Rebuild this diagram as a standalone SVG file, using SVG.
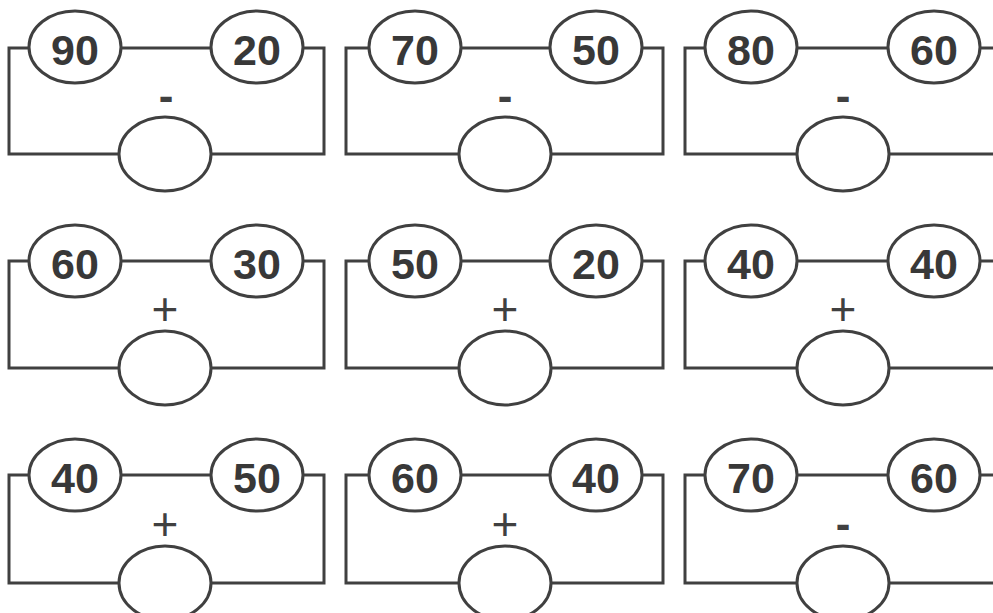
<svg xmlns="http://www.w3.org/2000/svg" width="993" height="613" viewBox="0 0 993 613">
<style>
.w{fill:none;stroke:#404040;stroke-width:3;stroke-linejoin:miter}
.n ellipse{fill:#ffffff;stroke:#404040;stroke-width:3}
.num{font-family:"Liberation Sans",Arial,sans-serif;font-weight:bold;font-size:43px;fill:#383838;text-anchor:middle}
.plus{font-family:"Liberation Sans",Arial,sans-serif;font-size:46px;fill:#404040;text-anchor:middle}
.minus{font-family:"Liberation Sans",Arial,sans-serif;font-weight:bold;font-size:44px;fill:#404040;text-anchor:middle}
</style>
<rect width="993" height="613" fill="#ffffff"/>
<g id="connectors">
<path class="w" d="M9 48H324V154H9Z"/>
<path class="w" d="M346 48H663V154H346Z"/>
<path class="w" d="M1000 48H685V154H1000"/>
<path class="w" d="M9 261H324V368H9Z"/>
<path class="w" d="M346 261H663V368H346Z"/>
<path class="w" d="M1000 261H685V368H1000"/>
<path class="w" d="M9 475H324V583H9Z"/>
<path class="w" d="M346 475H663V583H346Z"/>
<path class="w" d="M1000 475H685V583H1000"/>
</g>
<!-- Row 1 -->
<g id="r1c1a" class="n"><ellipse cx="75" cy="47" rx="46" ry="36"/><text class="num" x="75" y="65">90</text></g>
<g id="r1c1b" class="n"><ellipse cx="257" cy="47" rx="46" ry="36"/><text class="num" x="257" y="65">20</text></g>
<g id="r1c1op"><text class="minus" x="166" y="111">-</text></g>
<g id="r1c1r" class="n"><ellipse cx="165" cy="154" rx="46" ry="37"/></g>
<g id="r1c2a" class="n"><ellipse cx="415" cy="47" rx="46" ry="36"/><text class="num" x="415" y="65">70</text></g>
<g id="r1c2b" class="n"><ellipse cx="596" cy="47" rx="46" ry="36"/><text class="num" x="596" y="65">50</text></g>
<g id="r1c2op"><text class="minus" x="505" y="111">-</text></g>
<g id="r1c2r" class="n"><ellipse cx="505" cy="154" rx="46" ry="37"/></g>
<g id="r1c3a" class="n"><ellipse cx="751" cy="47" rx="46" ry="36"/><text class="num" x="751" y="65">80</text></g>
<g id="r1c3b" class="n"><ellipse cx="934" cy="47" rx="46" ry="36"/><text class="num" x="934" y="65">60</text></g>
<g id="r1c3op"><text class="minus" x="843" y="111">-</text></g>
<g id="r1c3r" class="n"><ellipse cx="843" cy="154" rx="46" ry="37"/></g>
<!-- Row 2 -->
<g id="r2c1a" class="n"><ellipse cx="75" cy="261" rx="46" ry="36"/><text class="num" x="75" y="279">60</text></g>
<g id="r2c1b" class="n"><ellipse cx="257" cy="261" rx="46" ry="36"/><text class="num" x="257" y="279">30</text></g>
<g id="r2c1op"><text class="plus" x="165" y="325">+</text></g>
<g id="r2c1r" class="n"><ellipse cx="165" cy="368" rx="46" ry="37"/></g>
<g id="r2c2a" class="n"><ellipse cx="415" cy="261" rx="46" ry="36"/><text class="num" x="415" y="279">50</text></g>
<g id="r2c2b" class="n"><ellipse cx="596" cy="261" rx="46" ry="36"/><text class="num" x="596" y="279">20</text></g>
<g id="r2c2op"><text class="plus" x="505" y="325">+</text></g>
<g id="r2c2r" class="n"><ellipse cx="505" cy="368" rx="46" ry="37"/></g>
<g id="r2c3a" class="n"><ellipse cx="751" cy="261" rx="46" ry="36"/><text class="num" x="751" y="279">40</text></g>
<g id="r2c3b" class="n"><ellipse cx="934" cy="261" rx="46" ry="36"/><text class="num" x="934" y="279">40</text></g>
<g id="r2c3op"><text class="plus" x="843" y="325">+</text></g>
<g id="r2c3r" class="n"><ellipse cx="843" cy="368" rx="46" ry="37"/></g>
<!-- Row 3 -->
<g id="r3c1a" class="n"><ellipse cx="75" cy="475" rx="46" ry="36"/><text class="num" x="75" y="493">40</text></g>
<g id="r3c1b" class="n"><ellipse cx="257" cy="475" rx="46" ry="36"/><text class="num" x="257" y="493">50</text></g>
<g id="r3c1op"><text class="plus" x="165" y="540">+</text></g>
<g id="r3c1r" class="n"><ellipse cx="165" cy="583" rx="46" ry="37"/></g>
<g id="r3c2a" class="n"><ellipse cx="415" cy="475" rx="46" ry="36"/><text class="num" x="415" y="493">60</text></g>
<g id="r3c2b" class="n"><ellipse cx="596" cy="475" rx="46" ry="36"/><text class="num" x="596" y="493">40</text></g>
<g id="r3c2op"><text class="plus" x="505" y="540">+</text></g>
<g id="r3c2r" class="n"><ellipse cx="505" cy="583" rx="46" ry="37"/></g>
<g id="r3c3a" class="n"><ellipse cx="751" cy="475" rx="46" ry="36"/><text class="num" x="751" y="493">70</text></g>
<g id="r3c3b" class="n"><ellipse cx="934" cy="475" rx="46" ry="36"/><text class="num" x="934" y="493">60</text></g>
<g id="r3c3op"><text class="minus" x="843" y="539">-</text></g>
<g id="r3c3r" class="n"><ellipse cx="843" cy="583" rx="46" ry="37"/></g>
</svg>
